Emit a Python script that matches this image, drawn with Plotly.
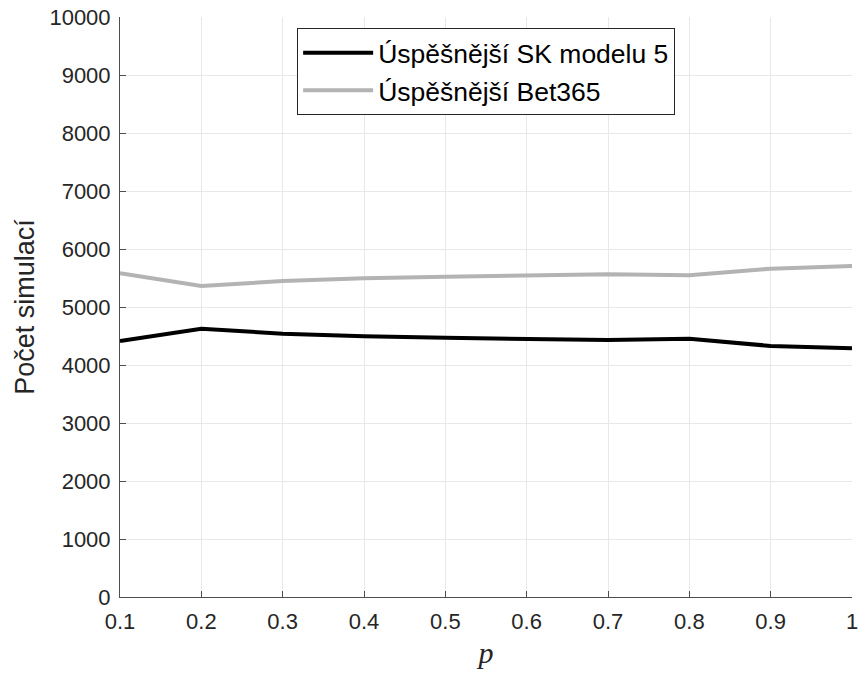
import plotly.graph_objects as go

p_values = [0.1, 0.2, 0.3, 0.4, 0.5, 0.6, 0.7, 0.8, 0.9, 1.0]
sk_model5 = [4414, 4626, 4540, 4494, 4469, 4454, 4431, 4454, 4328, 4287]
bet365 = [5581, 5362, 5448, 5494, 5522, 5546, 5563, 5546, 5661, 5707]
x_ticks = [0.1, 0.2, 0.3, 0.4, 0.5, 0.6, 0.7, 0.8, 0.9, 1.0]
x_tick_labels = ["0.1", "0.2", "0.3", "0.4", "0.5", "0.6", "0.7", "0.8", "0.9", "1"]
y_ticks = [0, 1000, 2000, 3000, 4000, 5000, 6000, 7000, 8000, 9000, 10000]
y_tick_labels = ["0", "1000", "2000", "3000", "4000", "5000", "6000", "7000", "8000", "9000", "10000"]

fig = go.Figure()
fig.add_trace(go.Scatter(x=p_values, y=sk_model5, mode="lines",
                         name="Úspěšnější SK modelu 5",
                         line=dict(color="#000000", width=4)))
fig.add_trace(go.Scatter(x=p_values, y=bet365, mode="lines",
                         name="Úspěšnější Bet365",
                         line=dict(color="#b3b3b3", width=4)))

axis_common = dict(showline=True, linecolor="#4d4d4d", linewidth=1,
                   ticks="inside", ticklen=6, tickcolor="#4d4d4d",
                   showgrid=True, gridcolor="#e8e8e8", gridwidth=1, zeroline=False,
                   automargin=False, ticklabeloverflow="allow",
                   tickfont=dict(family="Liberation Sans, Arial", size=22, color="#262626"))

fig.update_xaxes(range=[0.1, 1.0], tickvals=x_ticks, ticktext=x_tick_labels,
                 ticklabelstandoff=5,
                 title=dict(text="<i>p</i>", font=dict(family="Liberation Serif, DejaVu Serif", size=30, color="#262626"),
                            standoff=8),
                 **axis_common)
fig.update_yaxes(range=[0, 10000], tickvals=y_ticks, ticktext=y_tick_labels,
                 ticklabelstandoff=4,
                 title=dict(text="Počet simulací", font=dict(family="Liberation Sans, Arial", size=27, color="#262626"),
                            standoff=6),
                 **axis_common)

fig.update_layout(
    width=859, height=673,
    margin=dict(l=120, r=7, t=17, b=76),
    paper_bgcolor="white", plot_bgcolor="white",
    showlegend=True,
    legend=dict(x=0.242, y=0.981, xanchor="left", yanchor="top",
                bgcolor="white", bordercolor="#262626", borderwidth=1,
                font=dict(family="Liberation Sans, Arial", size=26.5, color="#000000"),
                itemwidth=70, tracegroupgap=0),
)

fig.write_html("out.html", config={"displayModeBar": False},
               post_script="document.body.style.margin='0';document.body.style.overflow='hidden';")
